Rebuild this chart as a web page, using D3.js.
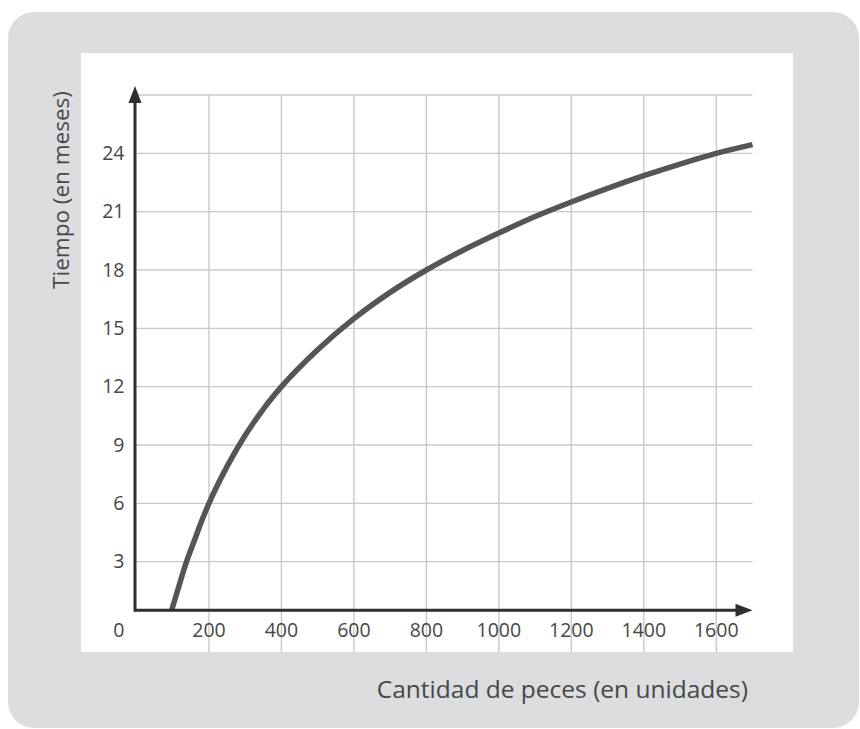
<!DOCTYPE html>
<html>
<head>
<meta charset="utf-8">
<script src="https://cdn.jsdelivr.net/npm/d3@7"></script>
<style>
  html, body { margin: 0; padding: 0; background: #ffffff; }
  svg { display: block; }
  text { font-family: "Open Sans", "DejaVu Sans", sans-serif; fill: #474747; font-weight: 400; }
</style>
</head>
<body>
<svg id="chart" width="860" height="729"></svg>
<script>
// ---- data ----
const peces  = [97, 118, 138, 160, 180, 200, 250, 300, 350, 400, 500, 600, 700, 800, 900, 1000, 1100, 1200, 1300, 1400, 1500, 1600, 1700];
const tiempo = [0.5, 1.8, 3.0, 4.1, 5.1, 6.0, 7.9, 9.5, 10.85, 12.0, 13.9, 15.5, 16.85, 18.0, 19.0, 19.9, 20.75, 21.5, 22.2, 22.85, 23.45, 24.0, 24.45];
const xTickValues = [200, 400, 600, 800, 1000, 1200, 1400, 1600];
const yTickValues = [3, 6, 9, 12, 15, 18, 21, 24];
const originLabel = "0";
const xTitle = "Cantidad de peces (en unidades)";
const yTitle = "Tiempo (en meses)";
const xDomain = [0, 1700];
const yDomain = [0, 27];
const xAxisAt = 0.5;

const svg = d3.select("#chart");

// backgrounds
svg.append("rect").attr("x", 8).attr("y", 12).attr("width", 851).attr("height", 716)
  .attr("rx", 26).attr("fill", "#dcdddf");
svg.append("rect").attr("x", 81).attr("y", 53).attr("width", 712).attr("height", 599)
  .attr("fill", "#ffffff");

const x = d3.scaleLinear().domain(xDomain).range([136.5, 752.5]);
const y = d3.scaleLinear().domain(yDomain).range([620, 95]);
const panelBottom = 652;

// grid
const grid = svg.append("g").attr("stroke", "#c9c9c9").attr("stroke-width", 1.4);
grid.selectAll("line.v").data(xTickValues).join("line")
  .attr("x1", d => x(d)).attr("x2", d => x(d))
  .attr("y1", y(yDomain[1])).attr("y2", panelBottom);
grid.selectAll("line.h").data(yTickValues.concat([yDomain[1]])).join("line")
  .attr("x1", x(0)).attr("x2", x(xDomain[1]))
  .attr("y1", d => y(d)).attr("y2", d => y(d));

// curve
const pts = peces.map((p, i) => [p, tiempo[i]]);
svg.append("path").datum(pts)
  .attr("fill", "none").attr("stroke", "#555555").attr("stroke-width", 5.5)
  .attr("stroke-linecap", "butt")
  .attr("d", d3.line().x(d => x(d[0])).y(d => y(d[1])).curve(d3.curveMonotoneX));

// axes
const axisColor = "#2e2e2e";
const x0 = x(0) - 1.5, yBase = y(xAxisAt);
const xTip = x(xDomain[1]), yTip = y(yDomain[1]) - 9;
const arrowLen = 17, arrowHalf = 6.5;
svg.append("line").attr("x1", x0).attr("x2", xTip - arrowLen + 2).attr("y1", yBase).attr("y2", yBase)
  .attr("stroke", axisColor).attr("stroke-width", 3);
svg.append("line").attr("x1", x0).attr("x2", x0).attr("y1", yBase + 1.5).attr("y2", yTip + arrowLen - 2)
  .attr("stroke", axisColor).attr("stroke-width", 3);
svg.append("path").attr("fill", axisColor)
  .attr("d", `M${xTip},${yBase} L${xTip - arrowLen},${yBase - arrowHalf} L${xTip - arrowLen},${yBase + arrowHalf} Z`);
svg.append("path").attr("fill", axisColor)
  .attr("d", `M${x0},${yTip} L${x0 - arrowHalf},${yTip + arrowLen} L${x0 + arrowHalf},${yTip + arrowLen} Z`);

// tick labels
const fs = 19.5;
svg.append("g").selectAll("text").data(xTickValues).join("text")
  .attr("x", d => x(d)).attr("y", 637).attr("text-anchor", "middle")
  .attr("font-size", fs).text(d => d);
svg.append("g").selectAll("text").data(yTickValues).join("text")
  .attr("x", x(0) - 12).attr("y", d => y(d)).attr("dy", "0.35em").attr("text-anchor", "end")
  .attr("font-size", fs).text(d => d);
svg.append("text").attr("x", x(0) - 12).attr("y", 637).attr("text-anchor", "end")
  .attr("font-size", fs).text(originLabel);

// titles
svg.append("text").attr("x", 748).attr("y", 698).attr("text-anchor", "end")
  .attr("font-size", 24.5).text(xTitle);
svg.append("text").attr("transform", "translate(69,190) rotate(-90)").attr("text-anchor", "middle")
  .attr("font-size", 22.5).text(yTitle);
</script>
</body>
</html>
